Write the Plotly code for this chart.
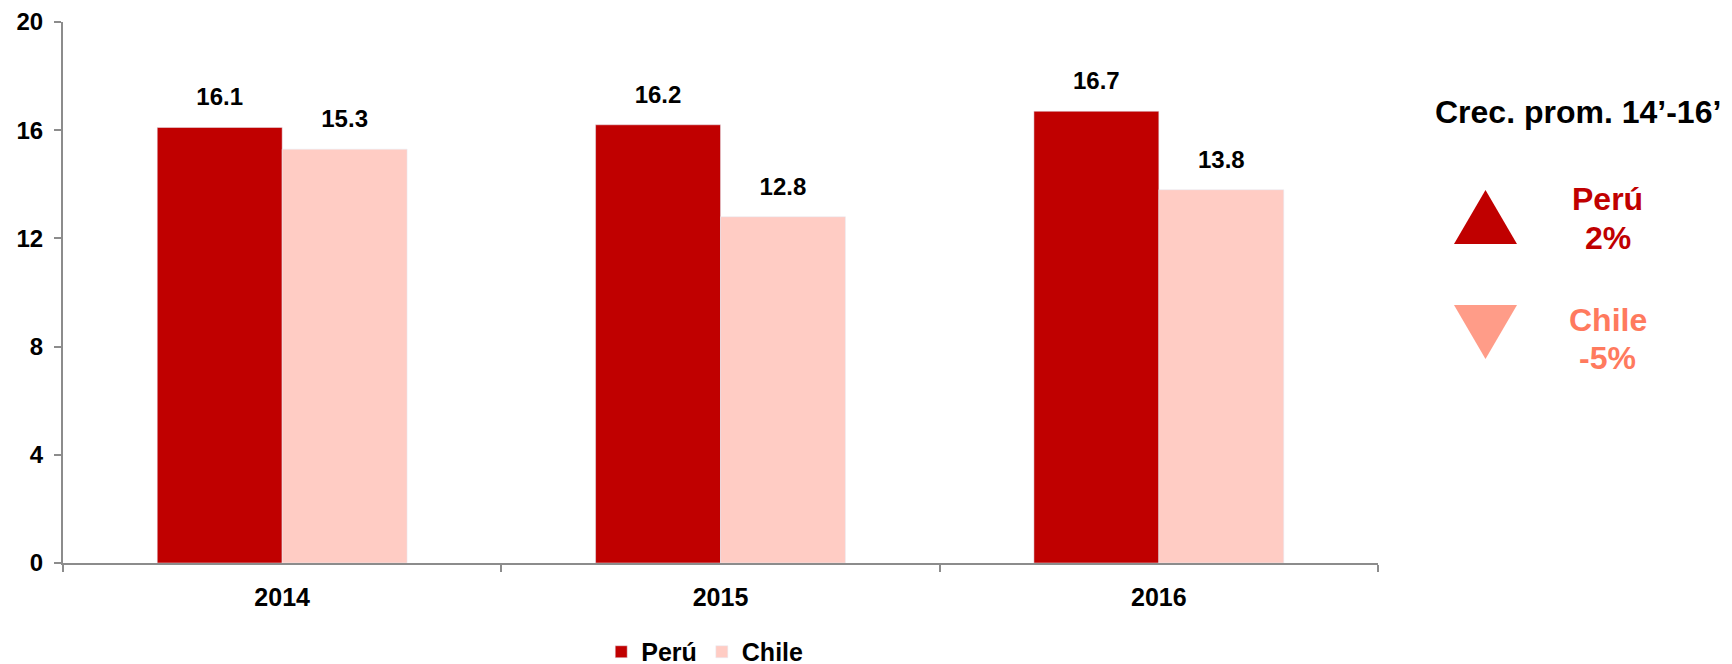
import plotly.graph_objects as go

categories = ["2014", "2015", "2016"]
peru = [16.1, 16.2, 16.7]
chile = [15.3, 12.8, 13.8]
y_ticks = [0, 4, 8, 12, 16, 20]

PERU = "#C00000"
CHILE_BAR = "#FFCCC4"
CHILE_TRI = "#FF9C88"
CHILE_TXT = "#FF7A5E"
FONT = "Liberation Sans"
GAP = 0.43

fig = go.Figure()
for name, vals, col in [("Perú", peru, PERU), ("Chile", chile, CHILE_BAR)]:
    fig.add_trace(go.Bar(name=f"<b>{name}</b>", x=categories, y=vals, marker_color=col,
                         offsetgroup=name, hoverinfo="x+y"))
for name, vals in [("Perú", peru), ("Chile", chile)]:
    fig.add_trace(go.Scatter(x=categories, y=vals, mode="markers+text", offsetgroup=name,
                             text=[f"<b>{v:.1f}</b>" for v in vals], textposition="top center",
                             textfont=dict(size=24, color="black", family=FONT),
                             marker=dict(size=24, opacity=0), showlegend=False,
                             hoverinfo="skip", cliponaxis=False))

fig.update_layout(
    width=1732, height=664,
    margin=dict(l=55, r=362, t=14, b=109, autoexpand=False),
    paper_bgcolor="white", plot_bgcolor="white",
    barmode="group", bargap=GAP, bargroupgap=0,
    scattermode="group", scattergap=GAP,
    font=dict(family=FONT, color="black"),
    showlegend=True,
    legend=dict(orientation="h", x=0.488, y=-0.1645, xanchor="center", yanchor="middle",
                font=dict(size=25, family=FONT), itemwidth=30, traceorder="normal"),
)
fig.update_xaxes(showline=True, linecolor="#8C8C8C", linewidth=2, ticks="outside",
                 tickson="boundaries", ticklen=7, tickcolor="#8C8C8C", tickwidth=2,
                 showgrid=False, tickfont=dict(size=25, family=FONT), ticklabelstandoff=11,
                 tickvals=categories, ticktext=[f"<b>{c}</b>" for c in categories])
fig.update_yaxes(range=[0, 20], showline=True, linecolor="#8C8C8C", linewidth=2,
                 ticks="outside", ticklen=7, tickcolor="#8C8C8C", tickwidth=2,
                 showgrid=False, zeroline=False, tickvals=y_ticks, ticklabelstandoff=6,
                 ticklabeloverflow="allow",
                 ticktext=[f"<b>{t}</b>" for t in y_ticks],
                 tickfont=dict(size=24, family=FONT))

def tri(x0, x1, ytop, ybot, up):
    xm = (x0 + x1) / 2
    if up:
        return f"M {x0} {ybot} L {x1} {ybot} L {xm} {ytop} Z"
    return f"M {x0} {ytop} L {x1} {ytop} L {xm} {ybot} Z"

# plot area height is now 541 px; keep the right-side items at the same pixel places
H = 541.0
def py(pix):  # screenshot pixel y -> paper y
    return (563 - pix) / H

fig.add_shape(type="path", xref="paper", yref="paper",
              path=tri(1.0578, 1.1057, py(190), py(244), True),
              fillcolor=PERU, line=dict(width=0))
fig.add_shape(type="path", xref="paper", yref="paper",
              path=tri(1.0578, 1.1057, py(305), py(359), False),
              fillcolor=CHILE_TRI, line=dict(width=0))

ann = [
    ("<b>Crec. prom. 14’-16’</b>", 1.152, py(112), "black"),
    ("<b>Perú</b>", 1.1749, py(199), PERU),
    ("<b>2%</b>", 1.1749, py(238), PERU),
    ("<b>Chile</b>", 1.1749, py(320), CHILE_TXT),
    ("<b>-5%</b>", 1.1749, py(358), CHILE_TXT),
]
for t, x, y, c in ann:
    fig.add_annotation(text=t, x=x, y=y, xref="paper", yref="paper", showarrow=False,
                       xanchor="center", yanchor="middle",
                       font=dict(size=32, color=c, family=FONT))

fig.write_html("out.html")
